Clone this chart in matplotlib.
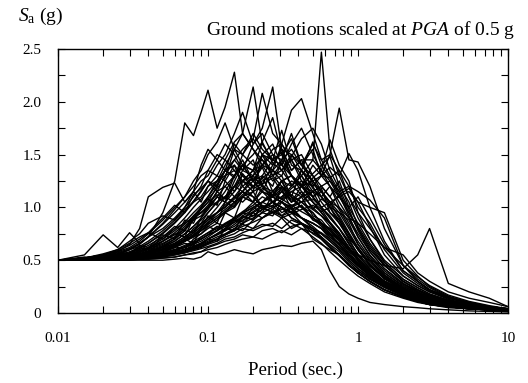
import matplotlib
matplotlib.use("Agg")
import matplotlib.pyplot as plt
from matplotlib.ticker import FixedLocator, FixedFormatter, NullFormatter

plt.rcParams['font.family'] = ['Liberation Serif', 'DejaVu Serif']
plt.rcParams['mathtext.fontset'] = 'custom'
plt.rcParams['mathtext.rm'] = 'Liberation Serif'
plt.rcParams['mathtext.it'] = 'Liberation Serif:italic'

# periods (sec.)
periods = [0.01, 0.015, 0.02, 0.025, 0.03, 0.035, 0.04, 0.05, 0.06, 0.07, 0.08, 0.09,
           0.1, 0.115, 0.13, 0.15, 0.17, 0.2, 0.23, 0.27, 0.31, 0.36, 0.42, 0.5, 0.57,
           0.65, 0.75, 0.87, 1.0, 1.2, 1.5, 2.0, 2.5, 3.0, 4.0, 5.5, 7.5, 10.0]

# spectral accelerations Sa (g), one list per ground motion
gm_a = [0.50, 0.51, 0.52, 0.55, 0.60, 0.66, 0.72, 0.95, 1.25, 1.80, 1.68, 1.90,
        2.11, 1.75, 1.95, 2.28, 1.70, 1.55, 1.40, 1.25, 1.30, 1.10, 1.05, 0.95, 0.85,
        0.80, 0.70, 0.60, 0.50, 0.40, 0.30, 0.22, 0.17, 0.13, 0.09, 0.06, 0.04, 0.03]
gm_b = [0.50, 0.55, 0.74, 0.62, 0.76, 0.66, 0.72, 0.80, 0.90, 1.00, 1.15, 1.05,
        1.20, 1.30, 1.25, 1.40, 1.20, 1.10, 1.00, 0.95, 0.90, 0.80, 0.85, 0.70, 0.65,
        0.60, 0.55, 0.45, 0.40, 0.32, 0.25, 0.18, 0.14, 0.11, 0.08, 0.05, 0.03, 0.02]
gm_c = [0.50, 0.52, 0.55, 0.58, 0.65, 0.80, 1.10, 1.19, 1.23, 1.05, 1.15, 1.40,
        1.55, 1.45, 1.60, 1.50, 1.35, 1.45, 1.20, 1.10, 1.05, 1.00, 0.90, 0.85, 0.80,
        0.70, 0.62, 0.55, 0.45, 0.38, 0.30, 0.20, 0.16, 0.12, 0.08, 0.06, 0.04, 0.02]
gm_d = [0.50, 0.50, 0.51, 0.52, 0.53, 0.55, 0.56, 0.60, 0.65, 0.70, 0.80, 0.85,
        0.95, 1.05, 1.10, 1.20, 1.35, 1.30, 1.50, 1.40, 1.55, 1.35, 1.45, 1.45, 2.47,
        1.55, 1.30, 1.10, 0.90, 0.70, 0.50, 0.35, 0.26, 0.20, 0.13, 0.08, 0.05, 0.03]
gm_e = [0.50, 0.50, 0.51, 0.51, 0.52, 0.53, 0.54, 0.56, 0.58, 0.60, 0.63, 0.66,
        0.70, 0.75, 0.80, 0.90, 0.95, 1.05, 1.15, 1.10, 1.25, 1.30, 1.20, 1.40, 1.30,
        1.50, 1.94, 1.45, 1.43, 1.20, 0.80, 0.45, 0.32, 0.24, 0.15, 0.09, 0.05, 0.03]
gm_f = [0.50, 0.51, 0.52, 0.53, 0.55, 0.56, 0.58, 0.62, 0.66, 0.72, 0.78, 0.85,
        0.90, 0.95, 1.00, 1.10, 1.05, 1.15, 1.00, 1.05, 0.95, 1.00, 0.90, 0.85, 0.80,
        0.75, 0.70, 0.60, 0.55, 0.50, 0.45, 0.42, 0.55, 0.80, 0.28, 0.20, 0.14, 0.06]
gm_g = [0.50, 0.50, 0.50, 0.50, 0.50, 0.50, 0.50, 0.50, 0.51, 0.52, 0.51, 0.53,
        0.58, 0.55, 0.57, 0.60, 0.58, 0.56, 0.60, 0.62, 0.64, 0.63, 0.66, 0.68, 0.60,
        0.40, 0.25, 0.18, 0.14, 0.10, 0.08, 0.06, 0.05, 0.04, 0.03, 0.02, 0.015, 0.01]
gm_h = [0.50, 0.51, 0.52, 0.53, 0.55, 0.57, 0.60, 0.65, 0.72, 0.80, 0.90, 1.00,
        1.10, 1.25, 1.40, 1.55, 1.70, 2.14, 1.60, 1.45, 1.50, 1.30, 1.20, 1.05, 0.95,
        0.85, 0.75, 0.62, 0.50, 0.40, 0.28, 0.18, 0.13, 0.10, 0.07, 0.05, 0.03, 0.02]
gm_i = [0.50, 0.50, 0.51, 0.52, 0.53, 0.55, 0.57, 0.62, 0.68, 0.75, 0.82, 0.90,
        1.00, 1.15, 1.30, 1.45, 1.35, 1.60, 1.75, 2.14, 1.55, 1.50, 1.35, 1.25, 1.10,
        1.00, 0.85, 0.70, 0.55, 0.42, 0.30, 0.20, 0.15, 0.11, 0.08, 0.05, 0.03, 0.02]
gm_j = [0.50, 0.51, 0.51, 0.52, 0.54, 0.56, 0.58, 0.63, 0.70, 0.78, 0.88, 0.98,
        1.05, 1.20, 1.35, 1.60, 1.50, 1.65, 2.08, 1.70, 1.60, 1.45, 1.30, 1.15, 1.00,
        0.90, 0.80, 0.65, 0.52, 0.40, 0.29, 0.19, 0.14, 0.10, 0.07, 0.05, 0.03, 0.02]
gm_k = [0.50, 0.50, 0.50, 0.51, 0.52, 0.53, 0.55, 0.58, 0.62, 0.68, 0.74, 0.80,
        0.85, 0.95, 1.05, 1.15, 1.25, 1.35, 1.40, 1.55, 1.60, 1.92, 2.03, 1.70, 1.45,
        1.30, 1.15, 0.95, 0.80, 0.60, 0.45, 0.30, 0.22, 0.17, 0.12, 0.08, 0.05, 0.03]
gm_l = [0.50, 0.51, 0.52, 0.54, 0.56, 0.58, 0.62, 0.68, 0.74, 0.82, 0.90, 0.95,
        1.00, 1.10, 1.20, 1.30, 1.40, 1.35, 1.50, 1.45, 1.73, 1.40, 1.35, 1.20, 1.05,
        0.95, 0.85, 0.72, 0.60, 0.45, 0.32, 0.22, 0.16, 0.12, 0.08, 0.05, 0.03, 0.02]
gm_m = [0.50, 0.50, 0.51, 0.51, 0.52, 0.53, 0.54, 0.57, 0.60, 0.64, 0.68, 0.72,
        0.76, 0.80, 0.85, 0.90, 0.95, 1.00, 1.05, 1.10, 1.15, 1.05, 1.20, 1.15, 1.10,
        1.20, 1.10, 1.15, 1.05, 1.00, 0.95, 0.50, 0.35, 0.25, 0.16, 0.10, 0.06, 0.04]
gm_n = [0.50, 0.50, 0.51, 0.52, 0.53, 0.54, 0.56, 0.60, 0.63, 0.68, 0.72, 0.78,
        0.82, 0.88, 0.95, 1.00, 1.10, 1.20, 1.25, 1.30, 1.35, 1.50, 1.40, 1.60, 1.45,
        1.50, 1.35, 1.20, 1.15, 1.07, 0.90, 0.45, 0.30, 0.22, 0.15, 0.10, 0.06, 0.04]
gm_o = [0.50, 0.51, 0.53, 0.55, 0.58, 0.62, 0.66, 0.75, 0.85, 0.95, 1.05, 1.10,
        1.20, 1.25, 1.30, 1.35, 1.25, 1.20, 1.15, 1.05, 1.00, 0.95, 0.85, 0.80, 0.70,
        0.62, 0.55, 0.45, 0.38, 0.30, 0.22, 0.15, 0.11, 0.08, 0.06, 0.04, 0.03, 0.02]
gm_p = [0.50, 0.52, 0.54, 0.56, 0.60, 0.63, 0.68, 0.78, 0.88, 1.00, 1.10, 1.20,
        1.35, 1.50, 1.45, 1.62, 1.70, 1.55, 1.45, 1.35, 1.25, 1.10, 1.00, 0.90, 0.85,
        0.75, 0.65, 0.55, 0.48, 0.38, 0.28, 0.19, 0.14, 0.10, 0.07, 0.05, 0.03, 0.02]
gm_q = [0.50, 0.50, 0.50, 0.51, 0.51, 0.52, 0.53, 0.55, 0.57, 0.60, 0.63, 0.66,
        0.70, 0.74, 0.78, 0.82, 0.88, 0.92, 0.98, 1.05, 1.10, 1.20, 1.30, 1.45, 1.35,
        1.25, 1.10, 0.95, 0.80, 0.62, 0.45, 0.30, 0.22, 0.16, 0.11, 0.07, 0.05, 0.03]
gm_r = [0.50, 0.50, 0.51, 0.52, 0.53, 0.55, 0.57, 0.60, 0.64, 0.68, 0.72, 0.75,
        0.80, 0.85, 0.82, 0.90, 0.95, 0.92, 0.98, 1.05, 1.00, 0.95, 1.02, 0.90, 0.85,
        0.80, 0.70, 0.60, 0.50, 0.40, 0.30, 0.22, 0.17, 0.13, 0.09, 0.06, 0.04, 0.03]
gm_s = [0.50, 0.51, 0.51, 0.52, 0.54, 0.55, 0.57, 0.61, 0.66, 0.72, 0.78, 0.84,
        0.90, 1.00, 1.10, 1.20, 1.15, 1.30, 1.40, 1.35, 1.45, 1.55, 1.40, 1.25, 1.15,
        1.05, 0.95, 0.80, 0.65, 0.50, 0.36, 0.24, 0.18, 0.13, 0.09, 0.06, 0.04, 0.02]
gm_t = [0.50, 0.52, 0.53, 0.56, 0.60, 0.65, 0.72, 0.85, 0.98, 1.10, 1.25, 1.35,
        1.50, 1.62, 1.80, 1.55, 1.50, 1.40, 1.45, 1.30, 1.20, 1.10, 1.00, 0.95, 0.85,
        0.78, 0.68, 0.56, 0.46, 0.36, 0.27, 0.18, 0.13, 0.10, 0.07, 0.05, 0.03, 0.02]
gm_u = [0.50, 0.50, 0.50, 0.51, 0.52, 0.52, 0.53, 0.55, 0.58, 0.60, 0.62, 0.65,
        0.68, 0.72, 0.75, 0.80, 0.85, 0.90, 0.95, 1.00, 1.05, 1.00, 1.10, 1.15, 1.20,
        1.25, 1.15, 1.20, 1.00, 0.85, 0.60, 0.38, 0.28, 0.21, 0.14, 0.09, 0.06, 0.04]
gm_v = [0.50, 0.50, 0.50, 0.50, 0.51, 0.51, 0.52, 0.53, 0.55, 0.57, 0.60, 0.62,
        0.65, 0.68, 0.72, 0.75, 0.80, 0.78, 0.82, 0.85, 0.80, 0.88, 0.84, 0.78, 0.75,
        0.68, 0.60, 0.50, 0.42, 0.33, 0.25, 0.17, 0.12, 0.09, 0.06, 0.04, 0.03, 0.02]
gm_w = [0.50, 0.51, 0.52, 0.54, 0.57, 0.60, 0.64, 0.72, 0.80, 0.90, 1.00, 1.08,
        1.15, 1.25, 1.35, 1.45, 1.55, 1.65, 1.50, 1.60, 1.40, 1.30, 1.15, 1.05, 0.95,
        0.85, 0.72, 0.60, 0.50, 0.38, 0.28, 0.19, 0.14, 0.10, 0.07, 0.05, 0.03, 0.02]
gm_x = [0.50, 0.50, 0.51, 0.51, 0.52, 0.53, 0.54, 0.56, 0.59, 0.62, 0.66, 0.70,
        0.74, 0.78, 0.82, 0.86, 0.90, 0.95, 1.00, 1.05, 1.10, 1.15, 1.20, 1.25, 1.30,
        1.28, 1.35, 1.10, 0.95, 0.80, 0.62, 0.45, 0.34, 0.26, 0.17, 0.11, 0.07, 0.04]
gm_y = [0.50, 0.51, 0.52, 0.53, 0.55, 0.58, 0.61, 0.66, 0.72, 0.80, 0.88, 0.92,
        1.00, 1.10, 1.05, 1.20, 1.30, 1.25, 1.40, 1.50, 1.35, 1.45, 1.25, 1.10, 1.00,
        0.92, 0.80, 0.68, 0.56, 0.44, 0.33, 0.22, 0.16, 0.12, 0.08, 0.05, 0.03, 0.02]
gm_z = [0.50, 0.50, 0.51, 0.52, 0.53, 0.54, 0.56, 0.60, 0.64, 0.70, 0.76, 0.82,
        0.88, 0.95, 1.00, 1.08, 1.15, 1.25, 1.30, 1.45, 1.40, 1.60, 1.75, 1.50, 1.35,
        1.20, 1.05, 0.90, 0.75, 0.58, 0.42, 0.28, 0.20, 0.15, 0.10, 0.07, 0.04, 0.03]
gm_aa = [0.50, 0.52, 0.55, 0.60, 0.68, 0.75, 0.85, 0.92, 0.88, 0.98, 1.05, 1.15,
         1.25, 1.20, 1.35, 1.30, 1.40, 1.25, 1.15, 1.10, 1.05, 0.95, 0.90, 0.82, 0.75,
         0.68, 0.60, 0.50, 0.42, 0.34, 0.25, 0.17, 0.12, 0.09, 0.06, 0.04, 0.03, 0.02]
gm_ab = [0.50, 0.50, 0.50, 0.51, 0.51, 0.52, 0.53, 0.54, 0.56, 0.58, 0.61, 0.63,
         0.66, 0.70, 0.74, 0.78, 0.82, 0.86, 0.90, 0.95, 0.98, 1.02, 1.05, 1.08, 1.00,
         1.05, 1.10, 1.00, 1.10, 0.90, 0.65, 0.40, 0.30, 0.22, 0.15, 0.10, 0.06, 0.04]
gm_ac = [0.50, 0.50, 0.50, 0.50, 0.50, 0.51, 0.51, 0.52, 0.53, 0.55, 0.56, 0.58,
         0.60, 0.62, 0.65, 0.68, 0.70, 0.72, 0.70, 0.75, 0.78, 0.74, 0.80, 0.76, 0.72,
         0.65, 0.58, 0.48, 0.40, 0.32, 0.24, 0.16, 0.12, 0.09, 0.06, 0.04, 0.03, 0.02]
gm_ad = [0.50, 0.51, 0.52, 0.54, 0.57, 0.61, 0.66, 0.76, 0.86, 0.96, 1.06, 1.16,
         1.25, 1.40, 1.50, 1.70, 1.90, 1.60, 1.70, 1.50, 1.45, 1.30, 1.20, 1.10, 1.00,
         0.90, 0.80, 0.66, 0.54, 0.42, 0.30, 0.20, 0.15, 0.11, 0.08, 0.05, 0.03, 0.02]
gm_ae = [0.50, 0.50, 0.51, 0.52, 0.53, 0.55, 0.57, 0.60, 0.64, 0.69, 0.74, 0.80,
         0.86, 0.92, 0.98, 1.05, 1.10, 1.15, 1.20, 1.15, 1.25, 1.30, 1.20, 1.10, 1.15,
         1.05, 1.00, 0.90, 0.85, 0.75, 0.62, 0.55, 0.38, 0.30, 0.20, 0.14, 0.10, 0.06]
gm_af = [0.50, 0.52, 0.55, 0.58, 0.62, 0.68, 0.75, 0.88, 1.00, 1.10, 1.20, 1.30,
         1.35, 1.30, 1.45, 1.35, 1.25, 1.30, 1.20, 1.10, 1.05, 0.98, 0.90, 0.80, 0.72,
         0.64, 0.55, 0.46, 0.38, 0.30, 0.22, 0.15, 0.11, 0.08, 0.06, 0.04, 0.03, 0.02]
gm_ag = [0.50, 0.50, 0.51, 0.52, 0.54, 0.56, 0.58, 0.63, 0.68, 0.75, 0.82, 0.88,
         0.95, 1.05, 1.15, 1.30, 1.40, 1.25, 1.15, 1.35, 1.60, 1.45, 1.50, 1.30, 1.20,
         1.10, 0.98, 0.82, 0.68, 0.52, 0.38, 0.26, 0.19, 0.14, 0.10, 0.06, 0.04, 0.03]
gm_ah = [0.50, 0.52, 0.56, 0.60, 0.66, 0.72, 0.76, 0.70, 0.80, 0.85, 0.90, 0.95,
         1.00, 1.05, 1.10, 1.05, 1.15, 1.10, 1.00, 0.95, 1.00, 0.90, 0.85, 0.78, 0.70,
         0.62, 0.55, 0.46, 0.38, 0.30, 0.22, 0.15, 0.11, 0.08, 0.06, 0.04, 0.03, 0.02]
gm_ai = [0.50, 0.51, 0.50, 0.52, 0.51, 0.54, 0.53, 0.58, 0.62, 0.70, 0.66, 0.80,
         0.92, 0.85, 1.05, 1.00, 1.25, 1.15, 1.50, 1.30, 1.42, 1.20, 1.30, 1.10, 1.18,
         0.95, 0.88, 0.70, 0.62, 0.45, 0.34, 0.23, 0.17, 0.13, 0.09, 0.06, 0.04, 0.02]
gm_aj = [0.50, 0.50, 0.51, 0.51, 0.53, 0.52, 0.55, 0.57, 0.63, 0.60, 0.70, 0.75,
         0.82, 0.78, 0.95, 0.90, 1.10, 1.05, 1.30, 1.20, 1.45, 1.70, 1.40, 1.55, 1.30,
         1.20, 1.00, 0.85, 0.65, 0.50, 0.36, 0.24, 0.18, 0.13, 0.09, 0.06, 0.04, 0.02]
gm_ak = [0.50, 0.53, 0.52, 0.58, 0.56, 0.64, 0.62, 0.74, 0.70, 0.88, 0.85, 1.00,
         1.08, 1.02, 1.25, 1.15, 1.32, 1.20, 1.28, 1.10, 1.18, 0.98, 1.02, 0.88, 0.84,
         0.72, 0.66, 0.52, 0.45, 0.36, 0.27, 0.18, 0.13, 0.10, 0.07, 0.05, 0.03, 0.02]
gm_al = [0.50, 0.50, 0.50, 0.51, 0.52, 0.51, 0.53, 0.55, 0.58, 0.57, 0.62, 0.65,
         0.70, 0.68, 0.80, 0.78, 0.92, 0.88, 1.05, 1.00, 1.20, 1.10, 1.35, 1.62, 1.40,
         1.48, 1.20, 1.05, 0.82, 0.64, 0.46, 0.30, 0.22, 0.17, 0.11, 0.07, 0.05, 0.03]
gm_am = [0.50, 0.52, 0.51, 0.55, 0.54, 0.60, 0.58, 0.68, 0.75, 0.72, 0.90, 0.95,
         1.02, 1.15, 1.08, 1.30, 1.45, 1.25, 1.38, 1.15, 1.25, 1.05, 1.10, 0.92, 0.88,
         0.78, 0.70, 0.58, 0.47, 0.37, 0.27, 0.18, 0.13, 0.10, 0.07, 0.05, 0.03, 0.02]
gm_an = [0.50, 0.50, 0.51, 0.51, 0.52, 0.53, 0.54, 0.56, 0.60, 0.58, 0.66, 0.70,
         0.74, 0.82, 0.78, 0.90, 0.86, 1.00, 0.95, 1.12, 1.20, 1.05, 1.15, 0.98, 0.92,
         0.85, 0.74, 0.62, 0.50, 0.40, 0.30, 0.21, 0.16, 0.12, 0.08, 0.05, 0.03, 0.02]
gm_ao = [0.50, 0.50, 0.50, 0.51, 0.51, 0.52, 0.52, 0.54, 0.56, 0.58, 0.60, 0.63,
         0.66, 0.70, 0.74, 0.80, 0.78, 0.88, 0.95, 0.92, 1.05, 1.15, 1.10, 1.28, 1.35,
         1.64, 1.40, 1.25, 0.95, 0.70, 0.48, 0.32, 0.24, 0.18, 0.12, 0.08, 0.05, 0.03]
gm_ap = [0.50, 0.51, 0.52, 0.53, 0.55, 0.56, 0.59, 0.64, 0.70, 0.78, 0.76, 0.90,
         0.98, 1.10, 1.05, 1.25, 1.40, 1.35, 1.62, 1.85, 1.50, 1.65, 1.40, 1.30, 1.15,
         1.05, 0.90, 0.75, 0.60, 0.46, 0.33, 0.22, 0.16, 0.12, 0.08, 0.05, 0.03, 0.02]
gm_aq = [0.50, 0.50, 0.50, 0.51, 0.51, 0.52, 0.52, 0.54, 0.56, 0.59, 0.61, 0.64,
         0.67, 0.70, 0.74, 0.78, 0.84, 0.80, 0.90, 0.96, 0.92, 1.00, 1.05, 0.98, 1.08,
         1.02, 1.12, 1.18, 1.05, 0.82, 0.55, 0.35, 0.26, 0.20, 0.14, 0.09, 0.06, 0.04]
gm_ar = [0.50, 0.51, 0.51, 0.52, 0.53, 0.55, 0.56, 0.60, 0.64, 0.68, 0.74, 0.78,
         0.84, 0.90, 0.96, 1.02, 1.10, 1.05, 1.18, 1.12, 1.25, 1.20, 1.35, 1.18, 1.10,
         1.00, 0.88, 0.74, 0.60, 0.46, 0.34, 0.23, 0.17, 0.13, 0.09, 0.06, 0.04, 0.02]
gm_as = [0.50, 0.51, 0.50, 0.52, 0.53, 0.52, 0.55, 0.58, 0.62, 0.66, 0.64, 0.72,
         0.76, 0.82, 0.78, 0.88, 0.84, 0.95, 0.90, 0.98, 0.92, 0.96, 0.90, 0.85, 0.80,
         0.72, 0.64, 0.54, 0.46, 0.36, 0.27, 0.18, 0.13, 0.10, 0.07, 0.05, 0.03, 0.02]
gm_at = [0.50, 0.51, 0.52, 0.54, 0.56, 0.59, 0.62, 0.70, 0.78, 0.86, 0.95, 1.02,
         1.10, 1.22, 1.35, 1.28, 1.50, 1.70, 1.55, 1.45, 1.52, 1.30, 1.22, 1.05, 0.98,
         0.86, 0.76, 0.62, 0.52, 0.40, 0.29, 0.19, 0.14, 0.10, 0.07, 0.05, 0.03, 0.02]
gm_au = [0.50, 0.50, 0.50, 0.51, 0.52, 0.52, 0.53, 0.55, 0.57, 0.60, 0.62, 0.66,
         0.70, 0.74, 0.78, 0.84, 0.90, 0.96, 1.02, 0.98, 1.08, 1.12, 1.05, 1.15, 1.20,
         1.10, 1.25, 1.00, 0.85, 0.66, 0.48, 0.32, 0.24, 0.18, 0.12, 0.08, 0.05, 0.03]
gm_av = [0.50, 0.52, 0.54, 0.57, 0.61, 0.66, 0.72, 0.84, 0.95, 1.05, 1.15, 1.25,
         1.30, 1.45, 1.35, 1.40, 1.30, 1.18, 1.22, 1.05, 1.00, 0.90, 0.85, 0.75, 0.70,
         0.62, 0.54, 0.45, 0.38, 0.30, 0.22, 0.15, 0.11, 0.08, 0.06, 0.04, 0.03, 0.02]
gm_aw = [0.50, 0.50, 0.51, 0.52, 0.53, 0.54, 0.56, 0.60, 0.65, 0.70, 0.76, 0.82,
         0.88, 0.95, 1.02, 1.10, 1.20, 1.28, 1.22, 1.40, 1.55, 1.35, 1.45, 1.22, 1.15,
         1.02, 0.92, 0.76, 0.62, 0.48, 0.35, 0.23, 0.17, 0.13, 0.09, 0.06, 0.04, 0.02]
gm_ax = [0.50, 0.50, 0.50, 0.50, 0.51, 0.51, 0.52, 0.53, 0.55, 0.57, 0.59, 0.61,
         0.63, 0.66, 0.70, 0.72, 0.76, 0.80, 0.84, 0.82, 0.90, 0.94, 0.98, 1.02, 0.96,
         1.00, 0.95, 0.88, 0.72, 0.55, 0.40, 0.27, 0.20, 0.15, 0.10, 0.07, 0.04, 0.03]
gm_ay = [0.50, 0.50, 0.51, 0.52, 0.53, 0.54, 0.56, 0.59, 0.63, 0.68, 0.73, 0.78,
         0.84, 0.90, 0.96, 1.04, 1.12, 1.20, 1.28, 1.35, 1.30, 1.48, 1.65, 1.75, 1.60,
         1.35, 1.18, 0.98, 0.78, 0.58, 0.42, 0.28, 0.21, 0.16, 0.11, 0.07, 0.05, 0.03]
gm_az = [0.50, 0.52, 0.51, 0.56, 0.55, 0.62, 0.60, 0.72, 0.82, 0.78, 0.92, 0.98,
         1.05, 1.12, 1.08, 1.20, 1.25, 1.35, 1.22, 1.28, 1.15, 1.08, 1.00, 0.90, 0.82,
         0.74, 0.65, 0.54, 0.45, 0.35, 0.26, 0.17, 0.13, 0.10, 0.07, 0.05, 0.03, 0.02]
gm_ba = [0.50, 0.50, 0.50, 0.51, 0.51, 0.52, 0.53, 0.55, 0.57, 0.60, 0.63, 0.66,
         0.70, 0.75, 0.80, 0.86, 0.92, 0.98, 1.05, 1.12, 1.08, 1.18, 1.25, 1.20, 1.30,
         1.38, 1.30, 1.51, 1.35, 1.00, 0.68, 0.40, 0.30, 0.22, 0.15, 0.10, 0.06, 0.04]
gm_bb = [0.50, 0.50, 0.51, 0.51, 0.52, 0.53, 0.55, 0.57, 0.60, 0.63, 0.67, 0.70,
         0.74, 0.78, 0.84, 0.88, 0.94, 1.00, 1.05, 1.15, 1.08, 1.02, 0.96, 0.90, 0.84,
         0.76, 0.68, 0.56, 0.46, 0.36, 0.27, 0.18, 0.13, 0.10, 0.07, 0.05, 0.03, 0.02]
gm_bc = [0.50, 0.50, 0.50, 0.51, 0.52, 0.52, 0.54, 0.56, 0.59, 0.62, 0.65, 0.68,
         0.72, 0.78, 0.84, 0.90, 0.96, 1.02, 1.10, 1.05, 1.15, 1.25, 1.20, 1.32, 1.40,
         1.28, 1.12, 0.92, 0.72, 0.54, 0.38, 0.25, 0.19, 0.14, 0.10, 0.06, 0.04, 0.03]
gm_bd = [0.50, 0.52, 0.55, 0.59, 0.64, 0.70, 0.76, 0.90, 1.02, 0.95, 1.12, 1.18,
         1.25, 1.15, 1.20, 1.10, 1.15, 1.05, 0.98, 1.02, 0.92, 0.85, 0.80, 0.72, 0.66,
         0.58, 0.50, 0.42, 0.35, 0.28, 0.20, 0.14, 0.10, 0.08, 0.05, 0.04, 0.03, 0.02]
gm_be = [0.50, 0.51, 0.52, 0.53, 0.55, 0.58, 0.61, 0.68, 0.76, 0.84, 0.92, 1.00,
         1.08, 1.18, 1.28, 1.55, 1.40, 1.50, 1.62, 1.42, 1.35, 1.22, 1.12, 1.00, 0.92,
         0.82, 0.72, 0.60, 0.50, 0.39, 0.28, 0.19, 0.14, 0.10, 0.07, 0.05, 0.03, 0.02]
gm_bf = [0.50, 0.50, 0.50, 0.50, 0.50, 0.51, 0.51, 0.52, 0.53, 0.55, 0.57, 0.58,
         0.62, 0.65, 0.68, 0.70, 0.74, 0.72, 0.78, 0.80, 0.76, 0.82, 0.85, 0.80, 0.76,
         0.70, 0.62, 0.52, 0.44, 0.35, 0.26, 0.18, 0.13, 0.10, 0.07, 0.05, 0.03, 0.02]

motions = [gm_a, gm_b, gm_c, gm_d, gm_e, gm_f, gm_g, gm_h, gm_i, gm_j, gm_k, gm_l,
           gm_m, gm_n, gm_o, gm_p, gm_q, gm_r, gm_s, gm_t, gm_u, gm_v, gm_w, gm_x,
           gm_y, gm_z, gm_aa, gm_ab, gm_ac, gm_ad, gm_ae, gm_af, gm_ag, gm_ah,
           gm_ai, gm_aj, gm_ak, gm_al, gm_am, gm_an, gm_ao, gm_ap, gm_aq, gm_ar,
           gm_as, gm_at, gm_au, gm_av, gm_aw, gm_ax, gm_ay, gm_az, gm_ba, gm_bb,
           gm_bc, gm_bd, gm_be, gm_bf]

x_ticks = [0.01, 0.1, 1, 10]
x_labels = ['0.01', '0.1', '1', '10']
y_ticks = [0, 0.5, 1.0, 1.5, 2.0, 2.5]
y_labels = ['0', '0.5', '1.0', '1.5', '2.0', '2.5']

fig = plt.figure(figsize=(5.28, 3.83), dpi=100)
ax = fig.add_axes([58/528, 70/383, 450/528, 264/383])

for sa in motions:
    ax.plot(periods, sa, color='black', linewidth=1.0)

ax.set_xscale('log')
ax.set_xlim(0.01, 10)
ax.set_ylim(0, 2.5)

ax.xaxis.set_major_locator(FixedLocator(x_ticks))
ax.xaxis.set_major_formatter(FixedFormatter(x_labels))
ax.xaxis.set_minor_formatter(NullFormatter())
ax.yaxis.set_major_locator(FixedLocator(y_ticks))
ax.yaxis.set_major_formatter(FixedFormatter(y_labels))
ax.yaxis.set_minor_locator(FixedLocator([0.25, 0.75, 1.25, 1.75, 2.25]))

ax.tick_params(which='both', direction='in', top=True, right=True,
               length=5, width=0.8, labelsize=11)
ax.tick_params(axis='x', which='both', pad=14)
ax.tick_params(axis='y', which='both', pad=12)
for s in ax.spines.values():
    s.set_linewidth(1.0)

fig.text(18/528, 1 - 16/383, r'$S_\mathrm{a}$ (g)', fontsize=14, va='center', ha='left')
fig.text(515/528, 1 - 30/383, r'Ground motions scaled at $PGA$ of 0.5 g',
         fontsize=14, va='center', ha='right')
fig.text(296/528, 1 - 370/383, 'Period (sec.)', fontsize=13.5, va='center', ha='center')

fig.savefig('out.png', dpi=100)
